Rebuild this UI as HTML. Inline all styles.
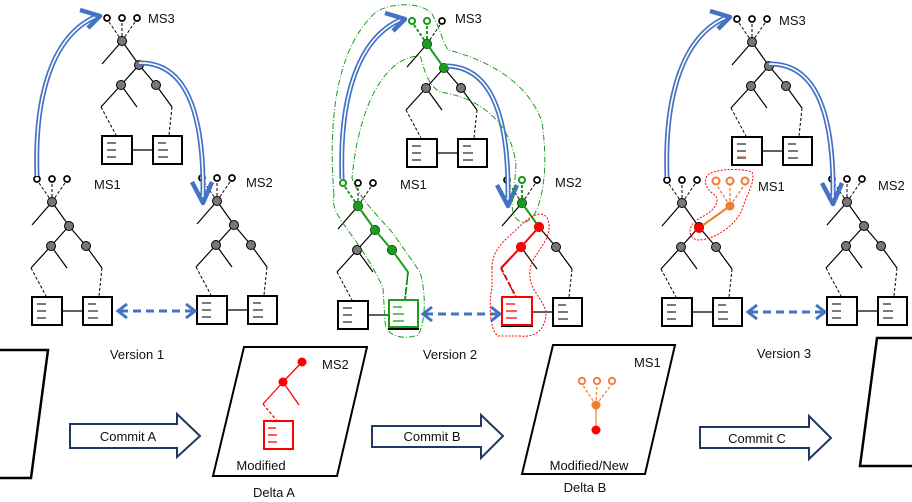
<!DOCTYPE html>
<html><head><meta charset="utf-8"><style>
html,body{margin:0;padding:0;background:#fff;}
svg{display:block;}
text{font-family:"Liberation Sans",sans-serif;font-size:13px;fill:#111;}
</style></head><body>
<svg width="912" height="502" viewBox="0 0 912 502" xmlns="http://www.w3.org/2000/svg">
<defs>
<g id="tree">
  <g stroke="#000" stroke-width="1" stroke-dasharray="3,2" fill="none">
    <line x1="0" y1="0" x2="-15" y2="-22"/><line x1="0" y1="0" x2="0" y2="-22"/><line x1="0" y1="0" x2="15" y2="-22"/>
    <line x1="-21" y1="66" x2="-6" y2="94"/><line x1="50" y1="66" x2="47" y2="94"/>
  </g>
  <g stroke="#000" stroke-width="1.2" fill="none">
    <line x1="0" y1="0" x2="-20" y2="23"/><line x1="0" y1="0" x2="17" y2="24"/>
    <line x1="17" y1="24" x2="-1" y2="44"/><line x1="17" y1="24" x2="34" y2="44"/>
    <line x1="-1" y1="44" x2="-21" y2="66"/><line x1="-1" y1="44" x2="15" y2="66"/>
    <line x1="34" y1="44" x2="50" y2="66"/>
    <line x1="10" y1="109" x2="31" y2="109"/>
  </g>
  <g stroke="#000" stroke-width="2" fill="#fff">
    <circle cx="-15" cy="-23" r="3" stroke-width="1.7"/><circle cx="0" cy="-23" r="3" stroke-width="1.7"/><circle cx="15" cy="-23" r="3" stroke-width="1.7"/>
    <rect x="-20" y="95" width="30" height="28"/><rect x="31" y="95" width="29" height="28"/>
  </g>
  <g stroke="#000" stroke-width="1" fill="#777">
    <circle cx="0" cy="0" r="4.5"/><circle cx="17" cy="24" r="4.5"/><circle cx="-1" cy="44" r="4.5"/><circle cx="34" cy="44" r="4.5"/>
  </g>
  <g stroke="#333" stroke-width="1.3">
    <line x1="-15" y1="102" x2="-6" y2="102"/><line x1="-15" y1="109" x2="-6" y2="109"/><line x1="-15" y1="116" x2="-6" y2="116"/>
    <line x1="36" y1="102" x2="44" y2="102"/><line x1="36" y1="109" x2="46" y2="109"/><line x1="36" y1="116" x2="46" y2="116"/>
  </g>
</g>
<g id="arrows">
  <path d="M37,176 C34,90 55,35 95,17" fill="none" stroke="#4472c4" stroke-width="5"/>
  <path d="M37,176 C34,90 55,35 95,17" fill="none" stroke="#fff" stroke-width="1.6"/>
  <polyline points="80,10 100,16 88,28" fill="none" stroke="#4472c4" stroke-width="4.5" stroke-linejoin="round"/>
  <path d="M139,63 C185,62 204,110 203,195" fill="none" stroke="#4472c4" stroke-width="5"/>
  <path d="M139,63 C185,62 204,110 203,195" fill="none" stroke="#fff" stroke-width="1.6"/>
  <polyline points="192,182 203,203 212,182" fill="none" stroke="#4472c4" stroke-width="4.5" stroke-linejoin="round"/>
  <line x1="120" y1="311" x2="192" y2="311" stroke="#4472c4" stroke-width="3" stroke-dasharray="8,5"/>
  <polyline points="127,304 118,311 127,318" fill="none" stroke="#4472c4" stroke-width="3"/>
  <polyline points="186,304 195,311 186,318" fill="none" stroke="#4472c4" stroke-width="3"/>
</g>
</defs>

<!-- Panel 1 -->
<use href="#tree" x="52" y="202"/>
<use href="#tree" x="122" y="41"/>
<use href="#tree" x="217" y="201"/>
<use href="#arrows"/>
<text x="148" y="23">MS3</text><text x="94" y="189">MS1</text><text x="246" y="187">MS2</text>

<!-- Panel 2 -->
<use href="#tree" x="358" y="206"/>
<use href="#tree" x="427" y="44"/>
<use href="#tree" x="522" y="203"/>
<use href="#arrows" x="305" y="3"/>
<text x="455" y="23">MS3</text><text x="400" y="189">MS1</text><text x="555" y="187">MS2</text>
<g stroke="#1a9e1a" stroke-width="2" fill="none">
  <line x1="358" y1="206" x2="375" y2="230"/><line x1="375" y1="230" x2="392" y2="250"/><line x1="392" y1="250" x2="408" y2="272"/>
  <line x1="408" y1="272" x2="405" y2="300" stroke-dasharray="5,3"/>
  <line x1="358" y1="206" x2="343" y2="184" stroke-dasharray="3,2"/>
  <line x1="427" y1="44" x2="444" y2="68"/>
  <line x1="427" y1="44" x2="412" y2="22" stroke-dasharray="3,2"/><line x1="427" y1="44" x2="427" y2="22" stroke-dasharray="3,2"/>
  <line x1="522" y1="203" x2="539" y2="227"/>
  <line x1="522" y1="203" x2="522" y2="181" stroke-dasharray="3,2"/>
  <rect x="389" y="300" width="29" height="27" fill="#fff"/>
  <circle cx="343" cy="183" r="3" fill="#fff"/><circle cx="412" cy="21" r="3" fill="#fff"/><circle cx="427" cy="21" r="3" fill="#fff"/><circle cx="522" cy="180" r="3" fill="#fff"/>
</g>
<g stroke="#1a9e1a" stroke-width="1.3"><line x1="393" y1="307" x2="402" y2="307"/><line x1="393" y1="314" x2="404" y2="314"/><line x1="393" y1="321" x2="404" y2="321"/></g>
<g fill="#1a9e1a"><circle cx="358" cy="206" r="4.5"/><circle cx="375" cy="230" r="4.5"/><circle cx="392" cy="250" r="4.5"/><circle cx="427" cy="44" r="4.5"/><circle cx="444" cy="68" r="4.5"/><circle cx="522" cy="203" r="4.5"/></g>
<g stroke="#f00" stroke-width="2" fill="none">
  <line x1="539" y1="227" x2="521" y2="247"/><line x1="521" y1="247" x2="501" y2="268"/>
  <line x1="501" y1="268" x2="516" y2="297" stroke-dasharray="5,3"/>
  <rect x="502" y="297" width="30" height="28" fill="#fff"/>
</g>
<g stroke="#f00" stroke-width="1.3"><line x1="506" y1="304" x2="515" y2="304"/><line x1="506" y1="311" x2="517" y2="311"/><line x1="506" y1="318" x2="517" y2="318"/></g>
<g fill="#f00"><circle cx="539" cy="227" r="5"/><circle cx="521" cy="247" r="5"/></g>
<g fill="none" stroke="#1a9e1a" stroke-width="1" stroke-dasharray="6,2,1,2">
  <path d="M334,195 C328,120 336,48 376,12 C392,2 422,2 432,14 C440,28 442,40 448,50 C488,60 528,82 542,122 C546,150 546,180 540,200 C536,215 530,222 524,222 C512,222 510,205 514,192 L516,165 C512,125 482,98 440,92 C426,84 424,66 420,56 C390,56 360,95 352,178 C358,196 374,212 392,232 L420,272 C426,292 426,322 418,335 C404,340 386,337 385,322 L383,288 C372,262 352,236 342,222 C334,210 332,202 334,195 Z"/>
</g>
<path d="M492,268 C492,248 506,240 520,226 C530,216 546,206 549,224 C551,242 532,254 530,270 C528,290 542,296 546,312 C546,327 538,338 520,336 L498,336 C489,330 489,300 492,288 Z" fill="none" stroke="#f00" stroke-width="1" stroke-dasharray="2,1.5"/>

<!-- Panel 3 -->
<use href="#tree" x="682" y="203"/>
<use href="#tree" x="752" y="42"/>
<use href="#tree" x="847" y="202"/>
<use href="#arrows" x="630" y="1"/>
<text x="779" y="25">MS3</text><text x="758" y="191">MS1</text><text x="878" y="190">MS2</text>
<line x1="737" y1="157" x2="746" y2="157" stroke="#ed7d31" stroke-width="1.4"/>
<g stroke="#ed7d31" stroke-width="2" fill="none">
  <line x1="699" y1="228" x2="730" y2="206"/>
  <line x1="730" y1="206" x2="716" y2="184" stroke-dasharray="3,2" stroke-width="1.3"/><line x1="730" y1="206" x2="730" y2="184" stroke-dasharray="3,2" stroke-width="1.3"/><line x1="730" y1="206" x2="745" y2="184" stroke-dasharray="3,2" stroke-width="1.3"/>
  <circle cx="716" cy="181" r="3.5" fill="#fff"/><circle cx="730" cy="181" r="3.5" fill="#fff"/><circle cx="745" cy="181" r="3.5" fill="#fff"/>
</g>
<circle cx="730" cy="206" r="4.5" fill="#ed7d31"/>
<circle cx="699" cy="228" r="5" fill="#f00"/>
<path d="M706,178 C708,168 742,168 752,172 C756,182 746,195 742,210 C735,226 714,240 698,240 C686,238 688,224 700,218 C712,212 720,204 716,196 C708,190 704,186 706,178 Z" fill="none" stroke="#f00" stroke-width="1" stroke-dasharray="2,1.5"/>

<!-- Bottom row -->
<text x="137" y="359" text-anchor="middle">Version 1</text>
<text x="450" y="359" text-anchor="middle">Version 2</text>
<text x="784" y="358" text-anchor="middle">Version 3</text>

<polyline points="0,350 48,350 31,478 0,478" fill="none" stroke="#000" stroke-width="2.5"/>
<polyline points="912,338 877,338 860,466 912,466" fill="none" stroke="#000" stroke-width="2.5"/>

<g fill="#fff" stroke="#1f3864" stroke-width="2">
  <polygon points="70,424 177,424 177,414 200,436 177,457 177,448 70,448"/>
  <polygon points="372,426 481,426 481,415 503,436 481,458 481,447 372,447"/>
  <polygon points="700,427 809,427 809,416 831,438 809,459 809,448 700,448"/>
</g>
<text x="128" y="441" text-anchor="middle">Commit A</text>
<text x="432" y="441" text-anchor="middle">Commit B</text>
<text x="757" y="443" text-anchor="middle">Commit C</text>

<polygon points="244,347 367,347 337,476 213,476" fill="#fff" stroke="#000" stroke-width="2"/>
<polygon points="553,345 675,345 645,474 522,474" fill="#fff" stroke="#000" stroke-width="2"/>

<g stroke="#f00" stroke-width="1.3" fill="none">
  <line x1="302" y1="362" x2="283" y2="382"/><line x1="283" y1="382" x2="263" y2="404"/><line x1="283" y1="382" x2="299" y2="405"/>
  <line x1="263" y1="404" x2="277" y2="421" stroke-dasharray="3,2"/>
  <rect x="264" y="421" width="29" height="28" stroke-width="2"/>
  <line x1="268" y1="428" x2="276" y2="428"/><line x1="268" y1="435" x2="277" y2="435"/><line x1="268" y1="442" x2="277" y2="442"/>
</g>
<circle cx="302" cy="362" r="4.5" fill="#f00"/><circle cx="283" cy="382" r="4.5" fill="#f00"/>
<text x="322" y="369">MS2</text>
<text x="261" y="470" text-anchor="middle">Modified</text>
<text x="274" y="497" text-anchor="middle">Delta A</text>

<g stroke="#ed7d31" stroke-width="1.2" fill="none">
  <line x1="596" y1="405" x2="582" y2="384" stroke-dasharray="3,2"/><line x1="596" y1="405" x2="597" y2="384" stroke-dasharray="3,2"/><line x1="596" y1="405" x2="612" y2="384" stroke-dasharray="3,2"/>
  <line x1="596" y1="405" x2="596" y2="430"/>
  <circle cx="582" cy="381" r="3.2" stroke-width="1.8" fill="#fff"/><circle cx="597" cy="381" r="3.2" stroke-width="1.8" fill="#fff"/><circle cx="612" cy="381" r="3.2" stroke-width="1.8" fill="#fff"/>
</g>
<circle cx="596" cy="405" r="4.5" fill="#ed7d31"/><circle cx="596" cy="430" r="4.5" fill="#f00"/>
<text x="634" y="367">MS1</text>
<text x="589" y="470" text-anchor="middle">Modified/New</text>
<text x="585" y="492" text-anchor="middle">Delta B</text>
</svg>
</body></html>
